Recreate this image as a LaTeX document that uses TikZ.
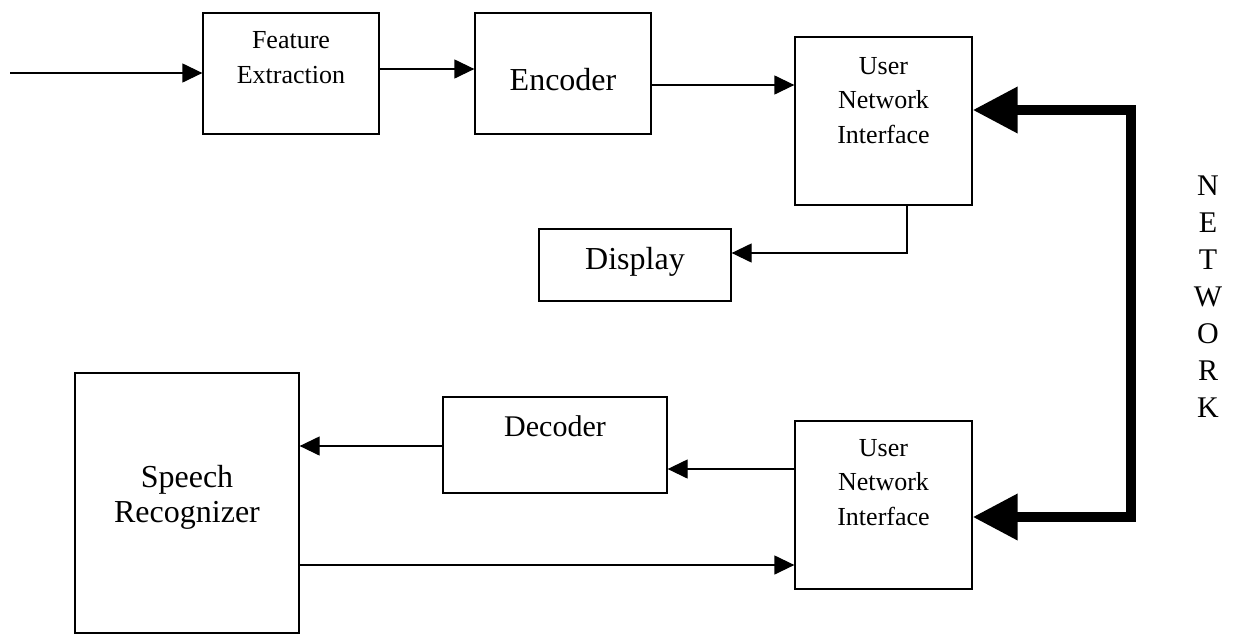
\documentclass[tikz,border=0pt]{standalone}
\usepackage{fontspec}
\setmainfont{Liberation Serif}
\usetikzlibrary{arrows.meta}

\tikzset{
  block/.style={draw, line width=1.3pt, inner sep=0pt},
  small/.style={anchor=base, align=center, font=\fontsize{26}{34.5}\selectfont},
  big/.style={anchor=base, align=center, font=\fontsize{32}{35}\selectfont},
  arr/.style={line width=1.3pt, -{Triangle[length=20pt, width=19pt]}},
  net/.style={line width=10pt, line join=miter,
    {Triangle[length=45pt, width=44pt]}-{Triangle[length=45pt, width=44pt]}}
}

\begin{document}
\begin{tikzpicture}[x=1pt, y=-1pt]
    \useasboundingbox (0,0) rectangle (1233,635);
    % boxes
    \node[block, minimum width=176pt, minimum height=121pt] (fe) at (291,73.5) {};
    \node[block, minimum width=176pt, minimum height=121pt] (enc) at (563,73.5) {};
    \node[block, minimum width=177pt, minimum height=168pt] (uni1) at (883.5,121) {};
    \node[block, minimum width=192pt, minimum height=72pt] (disp) at (635,265) {};
    \node[block, minimum width=224pt, minimum height=260pt] (sr) at (187,503) {};
    \node[block, minimum width=224pt, minimum height=96pt] (dec) at (555,445) {};
    \node[block, minimum width=177pt, minimum height=168pt] (uni2) at (883.5,505) {};
    % texts (base = last line)
    \node[small] (feT) at (291,83) {Feature\\Extraction};
    \node[big] (encT) at (563,90) {Encoder};
    \node[small] (uni1T) at (883.5,143) {User\\Network\\Interface};
    \node[big] (dispT) at (635,269) {Display};
    \node[big] (srT) at (187,522) {Speech\\Recognizer};
    \node[big, font=\fontsize{30}{35}\selectfont] (decT) at (555,436) {Decoder};
    \node[small] (uni2T) at (883.5,525) {User\\Network\\Interface};
    \node[big, font=\fontsize{30}{37}\selectfont] (netT) at (1208,417) {N\\E\\T\\W\\O\\R\\K};
    % connectors
    \coordinate (in) at (10,73);
    \draw[arr] (in) -- (in -| fe.west);
    \draw[arr] (fe.east |- 0,69) -- (enc.west |- 0,69);
    \draw[arr] (enc.east |- 0,85) -- (uni1.west |- 0,85);
    \draw[arr] (907,0 |- uni1.south) |- (disp.east |- 0,253);
    \draw[arr] (dec.west |- 0,446) -- (sr.east |- 0,446);
    \draw[arr] (uni2.west |- 0,469) -- (dec.east |- 0,469);
    \draw[arr] (sr.east |- 0,565) -- (uni2.west |- 0,565);
    % network
    \coordinate (nTop) at (1131,110);
    \coordinate (nBot) at (1131,517);
    \draw[net] (uni1.east |- nTop) -- (nTop) -- (nBot) -- (uni2.east |- nBot);
\end{tikzpicture}
\end{document}
